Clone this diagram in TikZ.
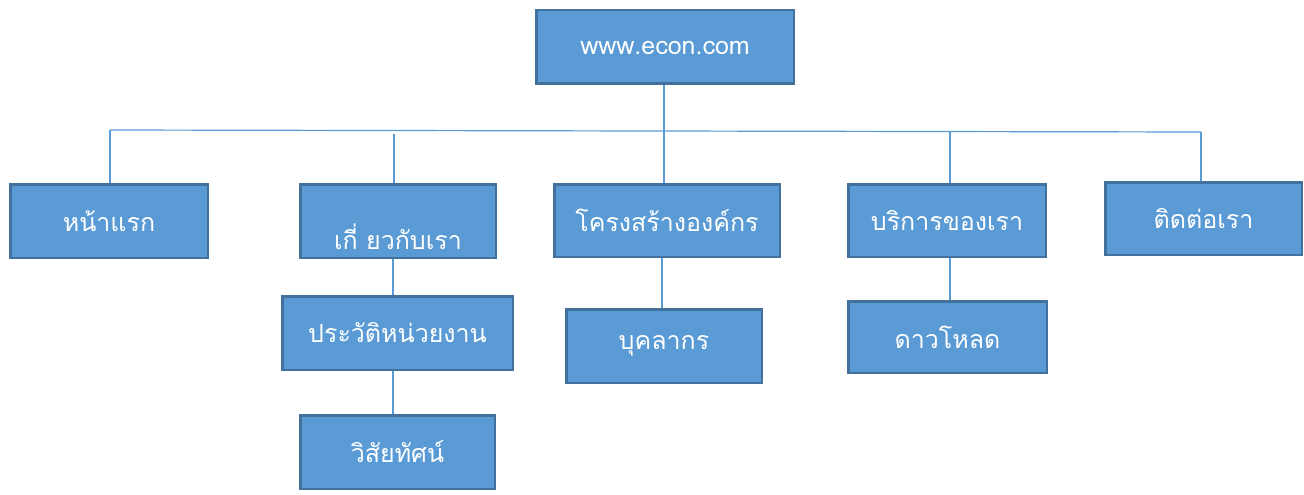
\documentclass[tikz,border=0pt]{standalone}
\usepackage{fontspec}
\newfontfamily\thaifont[Script=Thai]{Loma}
\definecolor{boxfill}{HTML}{5B9BD5}
\definecolor{boxline}{HTML}{41719C}
\definecolor{connc}{HTML}{5B9BD5}
\begin{document}
\begin{tikzpicture}[x=1pt,y=-1pt,
  box/.style={draw=boxline, fill=boxfill, line width=2.5pt, text=white,
    font=\thaifont\fontsize{25}{28}\selectfont, inner sep=0pt},
  conn/.style={draw=connc, line width=1.2pt}]
\useasboundingbox (0,0) rectangle (1304,495);
% top
\node[box, minimum width=257.5pt, minimum height=73.5pt] (www) at (665,47) {};
\node[text=white, font=\thaifont\fontsize{25}{28}\selectfont, inner sep=0pt] (wwwtxt) at (665,48) {www.econ.com};
% level 1
\node[box, minimum width=197.5pt, minimum height=73.5pt] (home) at (109,221) {หน้าแรก};
\node[box, minimum width=195.5pt, minimum height=73.5pt] (about) at (398,221) {};
\node[text=white, font=\thaifont\fontsize{25}{28}\selectfont, inner sep=0pt] (abouttxt) at (398,237) {เกี่ ยวกับเรา};
\node[box, minimum width=225.5pt, minimum height=72.5pt] (struct) at (667,220.5) {โครงสร้างองค์กร};
\node[box, minimum width=197.5pt, minimum height=72.5pt] (service) at (947,220.5) {บริการของเรา};
\node[box, minimum width=196.5pt, minimum height=72.5pt] (contact) at (1203.5,218.5) {ติดต่อเรา};
% level 2
\node[box, minimum width=230.5pt, minimum height=73.5pt] (history) at (397.5,333) {ประวัติหน่วยงาน};
\node[box, minimum width=194.5pt, minimum height=73.5pt] (vision) at (397.5,452) {วิสัยทัศน์};
\node[box, minimum width=195.5pt, minimum height=73.5pt] (staff) at (664,346) {บุคลากร};
\node[box, minimum width=198.5pt, minimum height=71.5pt] (download) at (947.5,337) {ดาวโหลด};
% bus coordinates
\coordinate (busL) at (110,130);
\coordinate (busR) at (1201,132);
\coordinate (aboutTop) at (394,134);
\coordinate (svcTop) at (950,132);
\coordinate (wwwBot) at (664,85);
% connectors
\draw[conn] (busL) -- (busR);
\draw[conn] (wwwBot) -- (wwwBot |- struct.north);
\draw[conn] (busL) -- (busL |- home.north);
\draw[conn] (aboutTop) -- (aboutTop |- about.north);
\draw[conn] (svcTop) -- (svcTop |- service.north);
\draw[conn] (busR) -- (busR |- contact.north);
\coordinate (aboutBot) at (393,259);
\draw[conn] (aboutBot) -- (aboutBot |- history.north);
\coordinate (histBot) at (393,371);
\draw[conn] (histBot) -- (histBot |- vision.north);
\coordinate (structBot) at (662,258);
\draw[conn] (structBot) -- (structBot |- staff.north);
\coordinate (svcBot) at (950,258);
\draw[conn] (svcBot) -- (svcBot |- download.north);
\end{tikzpicture}
\end{document}
